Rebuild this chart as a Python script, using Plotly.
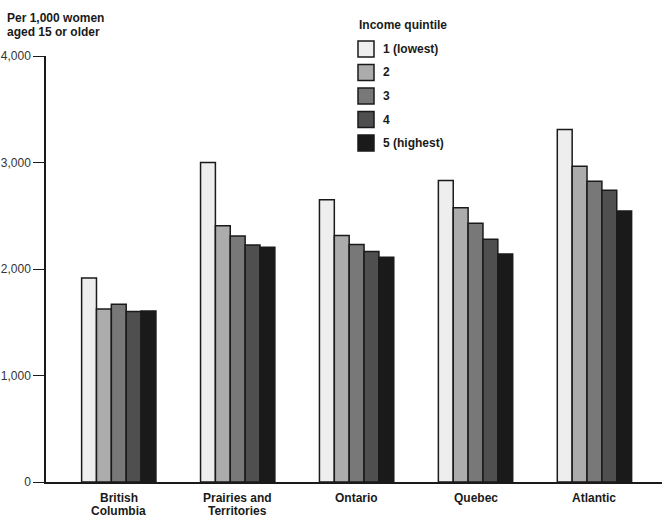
import plotly.graph_objects as go

regions = [["British", "Columbia"], ["Prairies and", "Territories"], ["Ontario"], ["Quebec"], ["Atlantic"]]
quintiles = ["1 (lowest)", "2", "3", "4", "5 (highest)"]
colors = ["#eeeeee", "#acacac", "#787878", "#4f4f4f", "#1a1a1a"]
q1 = [1915, 3000, 2650, 2830, 3310]
q2 = [1625, 2405, 2315, 2575, 2965]
q3 = [1670, 2310, 2230, 2430, 2825]
q4 = [1600, 2225, 2165, 2280, 2740]
q5 = [1605, 2205, 2110, 2140, 2545]
series = [q1, q2, q3, q4, q5]
yticks = [0, 1000, 2000, 3000, 4000]
ytick_text = ["0", "1,000", "2,000", "3,000", "4,000"]

W, H = 666, 518
L, R, T, B = 46, 4, 56, 36
PW, PH = W - L - R, H - T - B

def px(x):
    return (x - L) / PW

def py(y):
    return (H - B - y) / PH

FONT = "Liberation Sans, Arial, sans-serif"

fig = go.Figure()
xs = list(range(len(regions)))
for name, vals, c in zip(quintiles, series, colors):
    fig.add_trace(go.Bar(
        x=xs, y=vals, name=name,
        marker=dict(color=c, line=dict(color="#1a1a1a", width=1.5)),
        showlegend=False,
    ))

shapes = []
annotations = []
# title
annotations.append(dict(text="<b>Per 1,000 women</b>", xref="paper", yref="paper",
                        x=px(5), y=py(18), xanchor="left", yanchor="middle", showarrow=False,
                        font=dict(family=FONT, size=12, color="#1a1a1a")))
annotations.append(dict(text="<b>aged 15 or older</b>", xref="paper", yref="paper",
                        x=px(5), y=py(32), xanchor="left", yanchor="middle", showarrow=False,
                        font=dict(family=FONT, size=12, color="#1a1a1a")))
# category labels
for i, lines in enumerate(regions):
    for j, line in enumerate(lines):
        annotations.append(dict(text="<b>%s</b>" % line, xref="x", yref="paper",
                                x=i, y=py(498 + 13 * j), xanchor="center", yanchor="middle",
                                showarrow=False,
                                font=dict(family=FONT, size=12, color="#1a1a1a")))
# legend title
annotations.append(dict(text="<b>Income quintile</b>", xref="paper", yref="paper",
                        x=px(357), y=py(25), xanchor="left", yanchor="middle", showarrow=False,
                        font=dict(family=FONT, size=12, color="#1a1a1a")))
row_centers = [49, 72.5, 96, 119.5, 143]
for name, c, yc in zip(quintiles, colors, row_centers):
    shapes.append(dict(type="rect", xref="paper", yref="paper",
                       x0=px(358), x1=px(374), y0=py(yc - 8), y1=py(yc + 8),
                       fillcolor=c, line=dict(color="#1a1a1a", width=1.5)))
    annotations.append(dict(text="<b>%s</b>" % name, xref="paper", yref="paper",
                            x=px(381), y=py(yc), xanchor="left", yanchor="middle", showarrow=False,
                            font=dict(family=FONT, size=12, color="#1a1a1a")))

fig.update_layout(
    width=W, height=H,
    margin=dict(l=L, r=R, t=T, b=B, pad=0),
    paper_bgcolor="white", plot_bgcolor="white",
    barmode="group", bargap=0.375, bargroupgap=0,
    shapes=shapes, annotations=annotations,
    font=dict(family=FONT, size=12, color="#1a1a1a"),
    xaxis=dict(range=[-0.612, 4.568], tickvals=xs, showticklabels=False,
               showgrid=False, zeroline=False, showline=True, linecolor="#1a1a1a", linewidth=1.5,
               ticks="", automargin=False, fixedrange=True),
    yaxis=dict(range=[0, 4000], tickvals=yticks, ticktext=ytick_text,
               showgrid=False, zeroline=False, showline=True, linecolor="#1a1a1a", linewidth=1.5,
               ticks="outside", ticklen=11, tickwidth=1.2, tickcolor="#1a1a1a",
               ticklabelstandoff=0,
               tickfont=dict(family=FONT, size=12, color="#333333"),
               automargin=False, fixedrange=True),
)

fig.write_html("out.html")
